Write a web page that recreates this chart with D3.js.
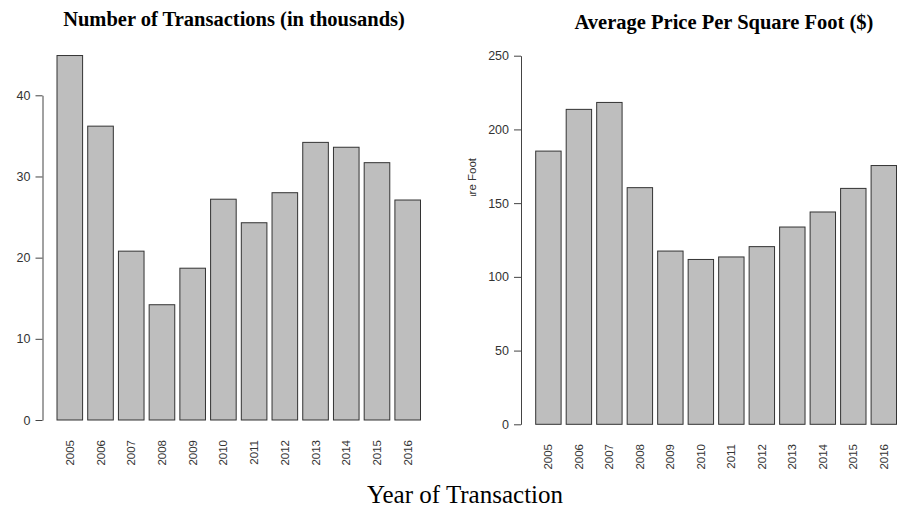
<!DOCTYPE html>
<html><head><meta charset="utf-8">
<script src="https://cdn.jsdelivr.net/npm/d3@7"></script>
<style>body{margin:0;background:#fff}</style>
</head><body>
<script>
const years = ["2005","2006","2007","2008","2009","2010","2011","2012","2013","2014","2015","2016"];
const transactions = [44.9, 36.2, 20.8, 14.2, 18.7, 27.2, 24.3, 28.0, 34.2, 33.6, 31.7, 27.1];
const pricePerSqft = [185.3, 213.6, 218.3, 160.5, 117.5, 111.8, 113.5, 120.5, 133.8, 144.0, 160.0, 175.5];
const leftTicks = [0, 10, 20, 30, 40];
const rightTicks = [0, 50, 100, 150, 200, 250];

const W = 898, H = 513;
const svg = d3.select("body").append("svg").attr("width", W).attr("height", H);

function panel(o) {
  const g = svg.append("g");
  const y = d3.scaleLinear().domain([0, o.ymax]).range([o.y0, o.y1]);
  const x = d3.scaleBand().domain(years).range([o.x0, o.x1]).paddingInner(0.2/1.2).paddingOuter(0);
  g.selectAll("rect").data(o.values).enter().append("rect")
    .attr("x", (d,i) => x(years[i]))
    .attr("y", d => y(d))
    .attr("width", x.bandwidth())
    .attr("height", d => y(0) - y(d))
    .attr("fill", "#bebebe").attr("stroke", "#333").attr("stroke-width", 1);
  const ax = g.append("g").attr("transform", `translate(${o.ax},0)`)
    .call(d3.axisLeft(y).tickValues(o.ticks).tickSize(7).tickPadding(5).tickSizeOuter(0));
  ax.select(".domain").attr("stroke", "#444");
  ax.selectAll(".tick line").attr("stroke", "#444");
  ax.selectAll("text").attr("font-family", "Liberation Sans, Arial, sans-serif").attr("font-size", 12.5).attr("fill", "#333");
  g.selectAll(".xl").data(years).enter().append("text")
    .attr("class","xl")
    .attr("transform", d => `translate(${x(d) + x.bandwidth()/2 + 4},${o.labY}) rotate(-90)`)
    .attr("text-anchor", "end")
    .attr("font-family", "Liberation Sans, Arial, sans-serif").attr("font-size", 11.5).attr("fill", "#333")
    .text(d => d);
  g.append("text").attr("x", o.tx).attr("y", o.ty).attr("text-anchor", "middle")
    .attr("font-family", "Liberation Serif, Times New Roman, serif").attr("font-weight", "bold")
    .attr("font-size", 20.5).attr("fill", "#000").text(o.title);
  return {x, y};
}

panel({values: transactions, ymax: 40, ticks: leftTicks, y0: 420, y1: 95.3,
  x0: 57, x1: 420.5, ax: 42.5, labY: 440, title: "Number of Transactions (in thousands)", tx: 234, ty: 26});
panel({values: pricePerSqft, ymax: 250, ticks: rightTicks, y0: 424.3, y1: 55.7,
  x0: 535.7, x1: 896.5, ax: 521, labY: 444, title: "Average Price Per Square Foot ($)", tx: 724, ty: 29});

// clipped y-axis label on the right panel
svg.append("clipPath").attr("id","yc").append("rect").attr("x",455).attr("y",140).attr("width",40).attr("height",56);
svg.append("g").attr("clip-path","url(#yc)")
  .append("text")
  .attr("transform","translate(476,158) rotate(-90)")
  .attr("text-anchor","end")
  .attr("font-family","Liberation Sans, Arial, sans-serif").attr("font-size",11.5).attr("fill","#333")
  .text("Price Per Square Foot");

svg.append("text").attr("x", 465).attr("y", 503).attr("text-anchor","middle")
  .attr("font-family","Liberation Serif, Times New Roman, serif").attr("font-size",25).attr("fill","#000")
  .text("Year of Transaction");
</script>
</body></html>
